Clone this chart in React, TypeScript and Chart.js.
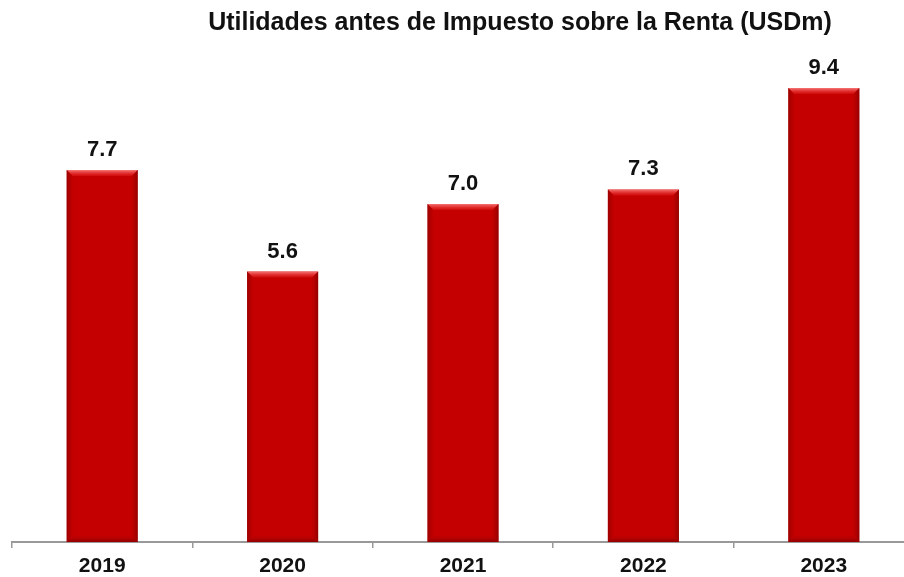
import React, { useEffect, useRef } from "react";
import { Chart, registerables } from "chart.js";

Chart.register(...registerables);

const TITLE = "Utilidades antes de Impuesto sobre la Renta (USDm)";
const categories = ["2019", "2020", "2021", "2022", "2023"];
const values = [7.7, 5.6, 7.0, 7.3, 9.4];
const yMax = 10;

const FONT = "'Liberation Sans', Arial, sans-serif";

const bevelPlugin = {
  id: "bevel",
  afterDatasetsDraw(chart: any) {
    const ctx = chart.ctx;
    const meta = chart.getDatasetMeta(0);
    meta.data.forEach((bar: any) => {
      const { x, y, base, width } = bar.getProps(["x", "y", "base", "width"], true);
      const l = x - width / 2;
      const r = x + width / 2;
      const t = y;
      const b = base;
      const d = 6;
      ctx.save();
      let g = ctx.createLinearGradient(0, t, 0, t + d);
      g.addColorStop(0, "rgba(255,140,140,0.85)");
      g.addColorStop(1, "rgba(240,40,40,0.3)");
      ctx.fillStyle = g;
      ctx.beginPath();
      ctx.moveTo(l, t);
      ctx.lineTo(r, t);
      ctx.lineTo(r - d, t + d);
      ctx.lineTo(l + d, t + d);
      ctx.closePath();
      ctx.fill();
      g = ctx.createLinearGradient(l, 0, l + d, 0);
      g.addColorStop(0, "rgba(120,0,0,0.55)");
      g.addColorStop(1, "rgba(160,0,0,0.1)");
      ctx.fillStyle = g;
      ctx.beginPath();
      ctx.moveTo(l, t);
      ctx.lineTo(l + d, t + d);
      ctx.lineTo(l + d, b - d);
      ctx.lineTo(l, b);
      ctx.closePath();
      ctx.fill();
      g = ctx.createLinearGradient(r, 0, r - d, 0);
      g.addColorStop(0, "rgba(110,0,0,0.6)");
      g.addColorStop(1, "rgba(160,0,0,0.1)");
      ctx.fillStyle = g;
      ctx.beginPath();
      ctx.moveTo(r, t);
      ctx.lineTo(r - d, t + d);
      ctx.lineTo(r - d, b - d);
      ctx.lineTo(r, b);
      ctx.closePath();
      ctx.fill();
      g = ctx.createLinearGradient(0, b, 0, b - d);
      g.addColorStop(0, "rgba(110,0,0,0.6)");
      g.addColorStop(1, "rgba(160,0,0,0.1)");
      ctx.fillStyle = g;
      ctx.beginPath();
      ctx.moveTo(l, b);
      ctx.lineTo(r, b);
      ctx.lineTo(r - d, b - d);
      ctx.lineTo(l + d, b - d);
      ctx.closePath();
      ctx.fill();
      ctx.restore();
    });
  },
};

const labelPlugin = {
  id: "labels",
  afterDraw(chart: any) {
    const ctx = chart.ctx;
    const meta = chart.getDatasetMeta(0);
    ctx.save();
    ctx.fillStyle = "#111111";
    ctx.font = `bold 22px ${FONT}`;
    ctx.textAlign = "center";
    ctx.textBaseline = "alphabetic";
    meta.data.forEach((bar: any, i: number) => {
      ctx.fillText(values[i].toFixed(1), bar.x, bar.y - 14);
    });
    ctx.font = `bold 25px ${FONT}`;
    ctx.fillText(TITLE, 520, 30);
    ctx.restore();
  },
};

export default function App() {
  const ref = useRef<HTMLCanvasElement>(null);
  useEffect(() => {
    document.body.style.margin = "0";
    const chart = new Chart(ref.current!, {
      type: "bar",
      data: {
        labels: categories,
        datasets: [
          {
            data: values,
            backgroundColor: "#C40000",
            borderWidth: 0,
            barPercentage: 0.394,
            categoryPercentage: 1,
          },
        ],
      },
      options: {
        animation: false,
        responsive: false,
        maintainAspectRatio: false,
        layout: { padding: { left: 12, right: 0, top: 59, bottom: 0 } },
        plugins: { legend: { display: false }, title: { display: false }, tooltip: { enabled: false } },
        scales: {
          x: {
            grid: {
              offset: true,
              drawOnChartArea: false,
              drawTicks: true,
              tickLength: 6,
              color: "#999999",
              lineWidth: 1.5,
            },
            border: { color: "#999999", width: 2 },
            ticks: {
              color: "#111111",
              padding: 8,
              font: { family: FONT, size: 21, weight: "bold", lineHeight: 1 },
            },
          },
          y: { display: false, min: 0, max: yMax },
        },
      },
      plugins: [bevelPlugin, labelPlugin],
    });
    return () => chart.destroy();
  }, []);
  return (
    <div style={{ width: 904, height: 577, overflow: "hidden", position: "relative", background: "#fff" }}>
      <canvas ref={ref} width={914} height={585} style={{ display: "block", width: 914, height: 585 }} />
    </div>
  );
}
